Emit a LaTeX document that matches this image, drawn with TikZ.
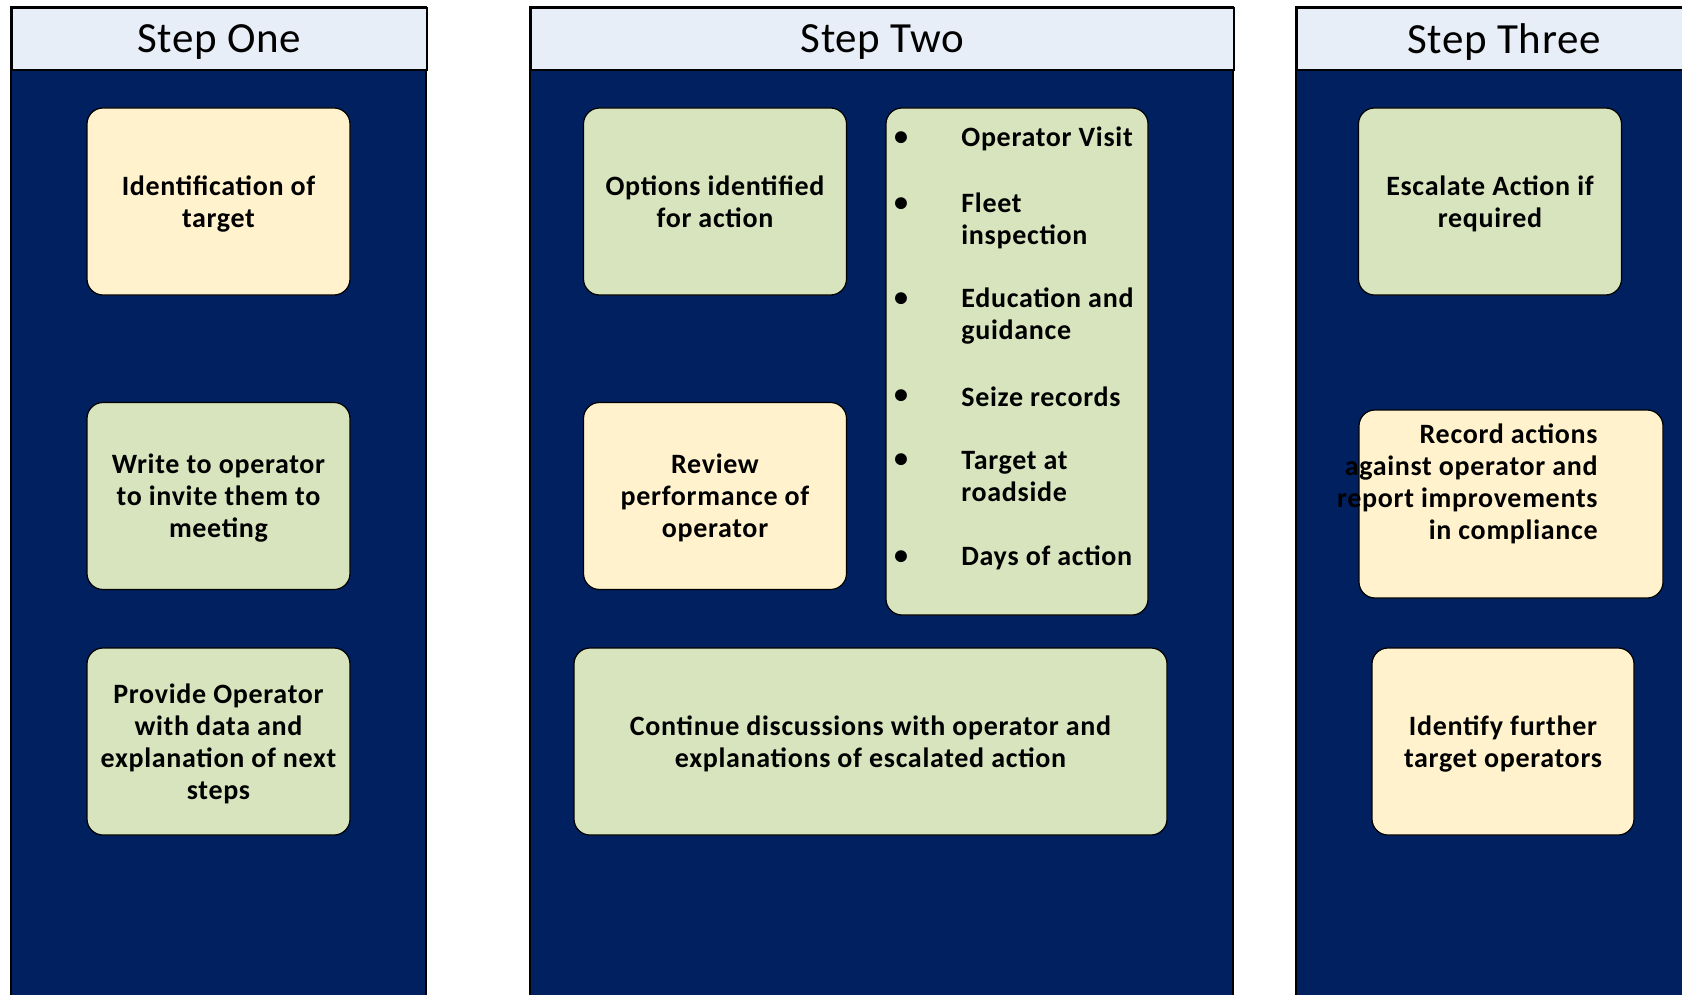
\documentclass[tikz,border=0pt]{standalone}
\usepackage{fontspec}
\setmainfont{Carlito}
\newfontfamily\cardfont[LetterSpace=2.5]{Carlito}
\definecolor{navycol}{RGB}{0,32,96}
\definecolor{hdrcol}{RGB}{231,238,248}
\definecolor{gcol}{RGB}{215,228,189}
\definecolor{ycol}{RGB}{255,242,204}
\begin{document}
\begin{tikzpicture}[x=0.5pt,y=-0.5pt,
  panel/.style={fill=navycol, draw=black, line width=1pt},
  header/.style={draw=black, fill=hdrcol, line width=1pt, inner sep=0pt, text depth=0pt,
    font=\fontsize{21.5}{26}\selectfont\addfontfeatures{LetterSpace=1.5}, minimum height=31pt, anchor=north west},
  card/.style={draw=black, line width=0.6pt, rounded corners=8pt, inner sep=0pt, text depth=0pt,
    align=center, font=\cardfont\bfseries\fontsize{14}{16}\selectfont},
  greencard/.style={card, fill=gcol},
  yellowcard/.style={card, fill=ycol},
  cardsize/.style={minimum width=131.5pt, minimum height=93.5pt},
  bul/.style={inner sep=0pt, font=\cardfont\bfseries\fontsize{14}{16}\selectfont},
  item/.style={inner sep=0pt, anchor=west, align=left, font=\cardfont\bfseries\fontsize{14}{16}\selectfont},
  freetext/.style={inner sep=0pt, font=\cardfont\bfseries\fontsize{14}{16}\selectfont}]
\useasboundingbox (0,0) rectangle (1682,995);
\clip (0,0) rectangle (1682,995);
% panels
\draw[panel] (11,7) rectangle (426,1010);
\draw[panel] (530,7) rectangle (1233,1010);
\draw[panel] (1296,7) rectangle (1710,1010);
\node[header, minimum width=207.5pt] (h1) at (11,7) {Step One};
\node[header, minimum width=351.5pt] (h2) at (530,7) {Step Two};
\node[header, minimum width=207pt] (h3) at (1296,7) {Step Three};
% step one
\node[yellowcard, cardsize] (s1a) at (218.5,201.5) {Identification of\\target};
\node[greencard, cardsize] (s1b) at (218.5,496) {Write to operator\\to invite them to\\meeting};
\node[greencard, cardsize] (s1c) at (218.5,741.5) {Provide Operator\\with data and\\explanation of next\\steps};
% step two
\node[greencard, cardsize] (s2a) at (715,201.5) {Options identified\\for action};
\node[yellowcard, cardsize] (s2b) at (715,496) {Review\\performance of\\operator};
\node[greencard, minimum width=131pt, minimum height=253.5pt] (s2list) at (1017,361.5) {};
\node[bul] (b1) at (901,139) {•};
\node[bul] (b2) at (901,205) {•};
\node[bul] (b3) at (901,300) {•};
\node[bul] (b4) at (901,397) {•};
\node[bul] (b5) at (901,461) {•};
\node[bul] (b6) at (901,558) {•};
\node[item] (i1) at (961,139) {Operator Visit};
\node[item] (i2) at (961,220.5) {Fleet\\inspection};
\node[item] (i3) at (961,316) {Education and\\guidance};
\node[item] (i4) at (961,397) {Seize records};
\node[item] (i5) at (961,477) {Target at\\roadside};
\node[item] (i6) at (961,558) {Days of action};
\node[greencard, minimum width=296.5pt, minimum height=93.5pt] (s2c) at (870.5,741.5) {Continue discussions with operator and\\explanations of escalated action};
% step three
\node[greencard, cardsize] (s3a) at (1490,201.5) {Escalate Action if\\required};
\node[yellowcard, minimum width=152pt, minimum height=94pt] (s3b) at (1511,504) {};
\node[freetext, align=right, anchor=east] (s3btext) at (1598,484) {Record actions\\against operator and\\report improvements\\in compliance};
\node[yellowcard, minimum width=131pt, minimum height=93.5pt] (s3c) at (1503,741.5) {Identify further\\target operators};
\end{tikzpicture}
\end{document}
